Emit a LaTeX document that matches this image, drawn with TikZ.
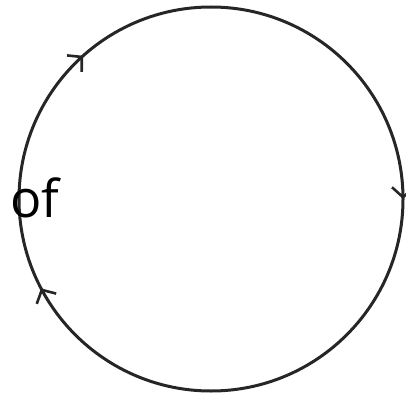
\documentclass[tikz,border=0pt]{standalone}
\usepackage{fontspec}
\setmainfont{Open Sans}
\usetikzlibrary{calc,arrows.meta}
\usetikzlibrary{decorations.markings}

\begin{document}
\begin{tikzpicture}[x=1pt,y=1pt]
\useasboundingbox (0,0) rectangle (406,397);
\draw[line width=3pt,color=black!85,
  postaction={decorate},
  decoration={markings,
    mark=at position 0.25 with {\arrow[line width=2.6pt]{Straight Barb[length=10pt,width=22pt]}},
    mark=at position 0.673 with {\arrow[line width=2.6pt]{Straight Barb[length=10pt,width=22pt]}},
    mark=at position 0.884 with {\arrow[line width=2.6pt]{Straight Barb[length=10pt,width=22pt]}}}]
  (211,198) ++(90:192) arc[start angle=90,end angle=-270,radius=192];
\path(35,199) node (of) {\fontsize{52}{54}\selectfont of};
\end{tikzpicture}
\end{document}
